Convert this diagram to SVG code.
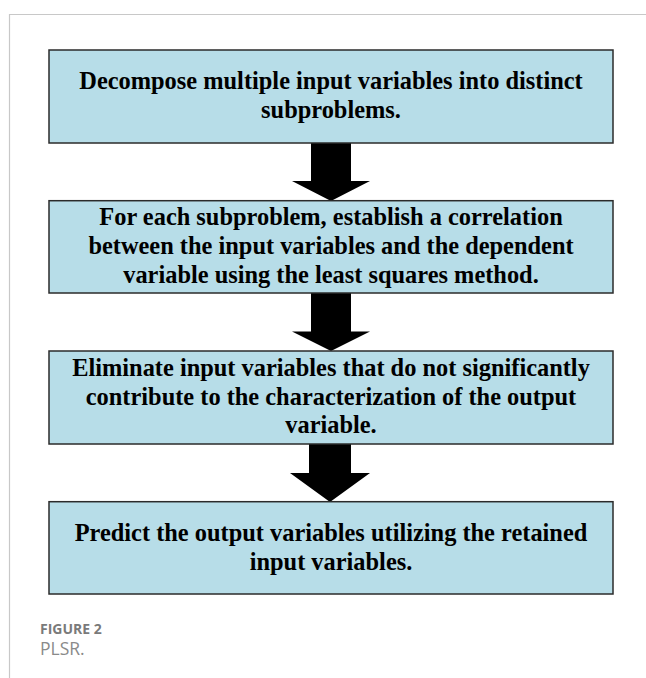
<svg xmlns="http://www.w3.org/2000/svg" width="646" height="678" viewBox="0 0 646 678">
<style>
.box{fill:#b7dde8;stroke:#2b2b2b;stroke-width:1.5}
.t{font-family:"Liberation Serif","Times New Roman",serif;font-weight:bold;font-size:24.4px;fill:#000;text-anchor:middle}
.arr{fill:#000}
.cap1{font-family:"Open Sans","Liberation Sans",sans-serif;font-weight:bold;font-size:14px;fill:#7a7a7a}
.cap2{font-family:"Open Sans","Liberation Sans",sans-serif;font-size:17.5px;fill:#8a8a8a}
</style>
<rect width="646" height="678" fill="#fff"/>
<path d="M646 14.5H9.5V678" fill="none" stroke="#c8c8c8" stroke-width="1.2"/>
<g id="connectors">
<polygon class="arr" points="311,143 351,143 351,181 370,181 331,201 292,181 311,181"/>
<polygon class="arr" points="311,293 351,293 351,331.5 370,331.5 331,351 292,331.5 311,331.5"/>
<polygon class="arr" points="309,444 351,444 351,473 370,473 330,502 290,473 309,473"/>
</g>
<g id="node1">
<rect class="box" x="49" y="50" width="564" height="93"/>
<text class="t" x="331" y="89">Decompose multiple input variables into distinct</text>
<text class="t" x="331" y="117.5">subproblems.</text>
</g>
<g id="node2">
<rect class="box" x="49" y="200.7" width="564" height="92.3"/>
<text class="t" x="331" y="225">For each subproblem, establish a correlation</text>
<text class="t" x="331" y="254">between the input variables and the dependent</text>
<text class="t" x="331" y="283">variable using the least squares method.</text>
</g>
<g id="node3">
<rect class="box" x="49" y="351" width="564" height="93"/>
<text class="t" x="331" y="376">Eliminate input variables that do not significantly</text>
<text class="t" x="331" y="404.5">contribute to the characterization of the output</text>
<text class="t" x="331" y="433">variable.</text>
</g>
<g id="node4">
<rect class="box" x="49" y="501.7" width="564" height="92.3"/>
<text class="t" x="331" y="541">Predict the output variables utilizing the retained</text>
<text class="t" x="331" y="569.5">input variables.</text>
</g>
<text class="cap1" x="40" y="634">FIGURE 2</text>
<text class="cap2" x="40" y="655">PLSR.</text>
</svg>
